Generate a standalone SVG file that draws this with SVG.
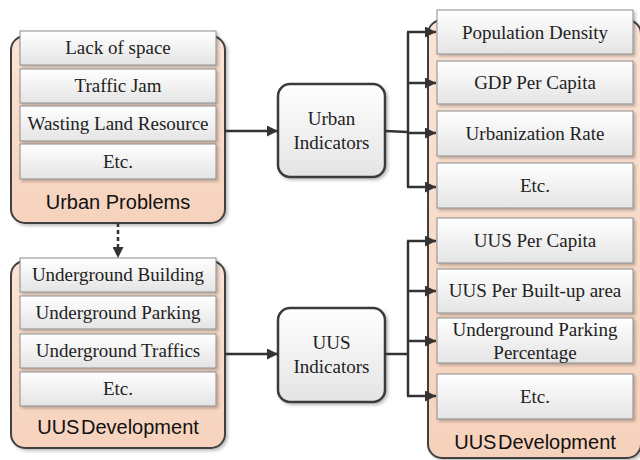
<svg xmlns="http://www.w3.org/2000/svg" width="640" height="460" viewBox="0 0 640 460">
<defs>
<linearGradient id="gBox" x1="0" y1="0" x2="0" y2="1">
<stop offset="0" stop-color="#ffffff"/>
<stop offset="1" stop-color="#e4e4e4"/>
</linearGradient>
<linearGradient id="gCont" x1="0" y1="0" x2="0" y2="1">
<stop offset="0" stop-color="#fbe4d6"/>
<stop offset="1" stop-color="#f6d2bc"/>
</linearGradient>
<filter id="sh" x="-10%" y="-10%" width="120%" height="130%">
<feDropShadow dx="2" dy="2" stdDeviation="1.5" flood-color="#000" flood-opacity="0.25"/>
</filter>
<marker id="ah" viewBox="0 0 10 10" refX="10" refY="5" markerWidth="12" markerHeight="11" markerUnits="userSpaceOnUse" orient="auto">
<path d="M0,0 L10,5 L0,10 z" fill="#333333"/>
</marker>
</defs>
<style>
.cont{fill:url(#gCont);stroke:#404040;stroke-width:2;}
.box{fill:url(#gBox);stroke:#8c8c8c;stroke-width:1;}
.mid{fill:url(#gBox);stroke:#3a3a3a;stroke-width:2.5;}
.t{font-family:"Liberation Serif","Times New Roman",serif;font-size:19px;fill:#222;text-anchor:middle;}
.lbl{font-family:"Liberation Sans",Arial,sans-serif;font-size:20px;fill:#111;text-anchor:middle;}
.c{fill:none;stroke:#333333;stroke-width:2.5;}
</style>
<rect width="640" height="460" fill="#ffffff"/>

<g id="urban-problems">
<rect class="cont" x="11" y="36" width="214" height="187" rx="14" filter="url(#sh)"/>
<rect class="box" x="20" y="31" width="196" height="34" filter="url(#sh)"/>
<text class="t" x="118" y="54">Lack of space</text>
<rect class="box" x="20" y="69" width="196" height="34" filter="url(#sh)"/>
<text class="t" x="118" y="92">Traffic Jam</text>
<rect class="box" x="20" y="106" width="196" height="35" filter="url(#sh)"/>
<text class="t" x="118" y="130">Wasting Land Resource</text>
<rect class="box" x="20" y="144" width="196" height="35" filter="url(#sh)"/>
<text class="t" x="118" y="168">Etc.</text>
<text class="lbl" x="118" y="209">Urban Problems</text>
</g>

<g id="uus-development-left">
<rect class="cont" x="11" y="261" width="214" height="187" rx="14" filter="url(#sh)"/>
<rect class="box" x="20" y="258" width="196" height="34" filter="url(#sh)"/>
<text class="t" x="118" y="281">Underground Building</text>
<rect class="box" x="20" y="296" width="196" height="33" filter="url(#sh)"/>
<text class="t" x="118" y="319">Underground Parking</text>
<rect class="box" x="20" y="334" width="196" height="34" filter="url(#sh)"/>
<text class="t" x="118" y="357">Underground Traffics</text>
<rect class="box" x="20" y="372" width="196" height="34" filter="url(#sh)"/>
<text class="t" x="118" y="395">Etc.</text>
<text class="lbl" x="118" y="434" word-spacing="-4">UUS Development</text>
</g>

<g id="urban-indicators">
<rect class="mid" x="278" y="84" width="107" height="93" rx="12" filter="url(#sh)"/>
<text class="t" x="331.5" y="125">Urban</text>
<text class="t" x="331.5" y="149">Indicators</text>
</g>

<g id="uus-indicators">
<rect class="mid" x="278" y="308" width="107" height="94" rx="12" filter="url(#sh)"/>
<text class="t" x="331.5" y="349">UUS</text>
<text class="t" x="331.5" y="373">Indicators</text>
</g>

<g id="uus-development-right">
<rect class="cont" x="428" y="20" width="213" height="438" rx="14" filter="url(#sh)"/>
<rect class="box" x="437" y="10" width="196" height="44" filter="url(#sh)"/>
<text class="t" x="535" y="39">Population Density</text>
<rect class="box" x="437" y="61" width="196" height="43" filter="url(#sh)"/>
<text class="t" x="535" y="89">GDP Per Capita</text>
<rect class="box" x="437" y="111" width="196" height="45" filter="url(#sh)"/>
<text class="t" x="535" y="140">Urbanization Rate</text>
<rect class="box" x="437" y="163" width="196" height="45" filter="url(#sh)"/>
<text class="t" x="535" y="192">Etc.</text>
<rect class="box" x="437" y="218" width="196" height="45" filter="url(#sh)"/>
<text class="t" x="535" y="247">UUS Per Capita</text>
<rect class="box" x="437" y="269" width="196" height="44" filter="url(#sh)"/>
<text class="t" x="535" y="297">UUS Per Built-up area</text>
<rect class="box" x="437" y="318" width="196" height="45" filter="url(#sh)"/>
<text class="t" x="535" y="336">Underground Parking</text>
<text class="t" x="535" y="359">Percentage</text>
<rect class="box" x="437" y="374" width="196" height="45" filter="url(#sh)"/>
<text class="t" x="535" y="403">Etc.</text>
<text class="lbl" x="535" y="449" word-spacing="-4">UUS Development</text>
</g>

<g id="connectors">
<line class="c" x1="225" y1="131" x2="278" y2="131" marker-end="url(#ah)"/>
<polyline class="c" points="385,131 408,132"/>
<line class="c" x1="408" y1="32" x2="408" y2="187"/>
<line class="c" x1="407" y1="32" x2="436" y2="32" marker-end="url(#ah)"/>
<line class="c" x1="407" y1="83" x2="436" y2="83" marker-end="url(#ah)"/>
<line class="c" x1="407" y1="133" x2="436" y2="133" marker-end="url(#ah)"/>
<line class="c" x1="407" y1="187" x2="436" y2="187" marker-end="url(#ah)"/>
<line class="c" x1="118" y1="223" x2="118" y2="258" stroke-dasharray="4,3" stroke-width="3" marker-end="url(#ah)"/>
<line class="c" x1="225" y1="354" x2="278" y2="354" marker-end="url(#ah)"/>
<line class="c" x1="385" y1="354" x2="408" y2="354"/>
<line class="c" x1="408" y1="241" x2="408" y2="396"/>
<line class="c" x1="407" y1="241" x2="436" y2="241" marker-end="url(#ah)"/>
<line class="c" x1="407" y1="291" x2="436" y2="291" marker-end="url(#ah)"/>
<line class="c" x1="407" y1="341" x2="436" y2="341" marker-end="url(#ah)"/>
<line class="c" x1="407" y1="396" x2="436" y2="396" marker-end="url(#ah)"/>
</g>
</svg>
